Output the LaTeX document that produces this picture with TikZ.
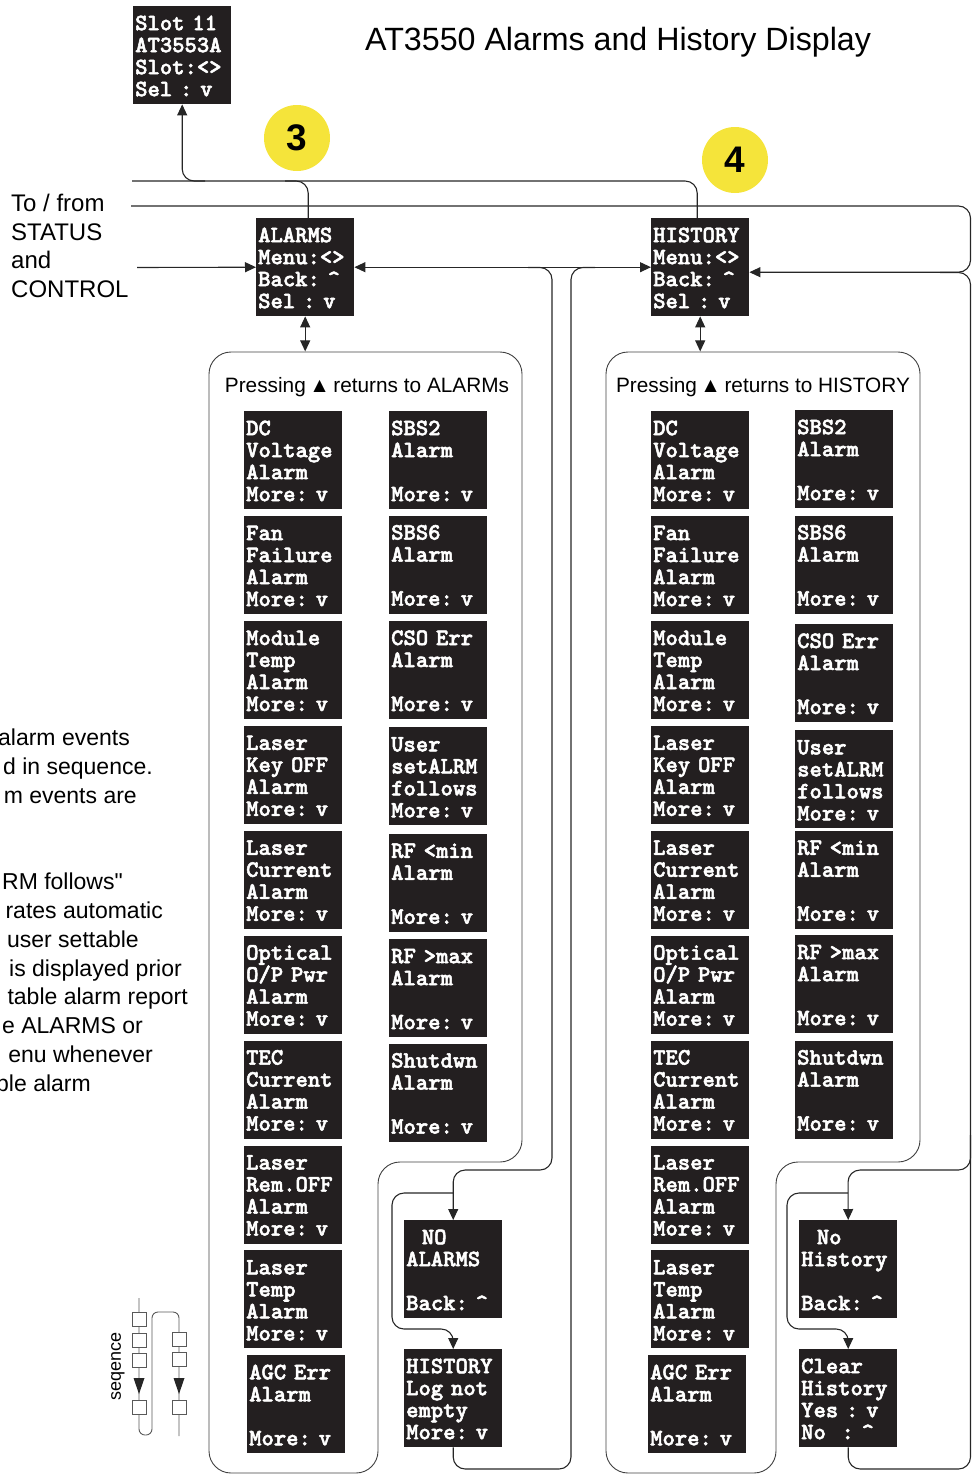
\documentclass[tikz,border=0pt]{standalone}
\usepackage{fontspec}
\setmainfont{Liberation Sans}
\newfontfamily\lcdfont{lmmonolt10-bold.otf}[FakeBold=2.2]
\usetikzlibrary{positioning, arrows.meta}
\definecolor{lcdbg}{RGB}{35,31,32}
\definecolor{badgey}{RGB}{245,228,58}
\newcommand{\upkey}{\textasciicircum}
\tikzset{
  conn/.style={draw=black!85, line width=1.1pt, rounded corners=12pt},
  arr/.style={conn, -{Triangle[length=11pt,width=10pt]}},
  darr/.style={conn, {Triangle[length=11pt,width=10pt]}-{Triangle[length=11pt,width=10pt]}},
  lcd/.style={fill=lcdbg, text=white, anchor=north west, align=left,
    text width=94pt, inner xsep=2pt, inner ysep=5pt,
    font=\lcdfont\fontsize{23.5}{22}\selectfont,
    execute at begin node=\rule{0pt}{19pt},
    execute at end node=\rule[-3pt]{0pt}{3pt}},
  panel/.style={draw=black!75, line width=0.9pt, rounded corners=22pt},
  badge/.style={circle, fill=badgey, minimum size=66pt, inner sep=0pt,
    font=\bfseries\fontsize{37}{40}\selectfont},
  plab/.style={font=\fontsize{20.8}{24}\selectfont, inner sep=0pt},
  note/.style={font=\fontsize{23}{28.8}\selectfont, inner sep=0pt, anchor=base east},
  seqbox/.style={draw=black!65, fill=white, line width=0.8pt},
  seqline/.style={draw=black!65, line width=0.9pt, rounded corners=6pt}
}

\begin{document}
\begin{tikzpicture}[x=1pt, y=-1pt]
  \useasboundingbox (0,0) rectangle (972,1475);

  % title and badges
  \node[font=\fontsize{32.2}{34}\selectfont, anchor=base west, inner sep=0pt] (title) at (365,50) {AT3550 Alarms and History Display};
  \node[badge] (b3) at (297,138) {3};
  \node[badge] (b4) at (735,160) {4};
  \node[font=\fontsize{24}{28.7}\selectfont, align=left, anchor=north west, inner sep=0pt] (io) at (11,194) {To / from\\STATUS\\and\\CONTROL};

  % menu heads
  \node[lcd] (slot) at (133,6) {Slot 11\\AT3553A\\Slot:<>\\Sel~:~v};
  \node[lcd] (alarms) at (256,218) {ALARMS\\Menu:<>\\Back:~\upkey\\Sel~:~v};
  \node[lcd] (history) at (651,218) {HISTORY\\Menu:<>\\Back:~\upkey\\Sel~:~v};

  % panels
  \draw[panel] (209,800) -- (209,352) -- (522,352) -- (522,1162) -- (378,1162) -- (378,1473) -- (209,1473) -- cycle;
  \draw[panel] (606,800) -- (606,352) -- (920,352) -- (920,1162) -- (776,1162) -- (776,1473) -- (606,1473) -- cycle;
  \node[plab] (alab) at (367,387) {Pressing\,▲\,returns to ALARMs};
  \node[plab] (hlab) at (763,387) {Pressing\,▲\,returns to HISTORY};

  % ALARMS list
  \node[lcd] (al1) at (244,411) {DC\\Voltage\\Alarm\\More:~v};
  \node[lcd, below=6.5pt of al1] (al2) {Fan\\Failure\\Alarm\\More:~v};
  \node[lcd, below=6.5pt of al2] (al3) {Module\\Temp\\Alarm\\More:~v};
  \node[lcd, below=6.5pt of al3] (al4) {Laser\\Key~OFF\\Alarm\\More:~v};
  \node[lcd, below=6.5pt of al4] (al5) {Laser\\Current\\Alarm\\More:~v};
  \node[lcd, below=6.5pt of al5] (al6) {Optical\\O/P~Pwr\\Alarm\\More:~v};
  \node[lcd, below=6.5pt of al6] (al7) {TEC\\Current\\Alarm\\More:~v};
  \node[lcd, below=6.5pt of al7] (al8) {Laser\\Rem.OFF\\Alarm\\More:~v};
  \node[lcd, below=6.5pt of al8] (al9) {Laser\\Temp\\Alarm\\More:~v};
  \node[lcd, below=6.5pt of al9, xshift=3pt] (al10) {AGC~Err\\Alarm\\~\\More:~v};
  \node[lcd] (ar1) at (389,411) {SBS2\\Alarm\\~\\More:~v};
  \node[lcd, below=6pt of ar1] (ar2) {SBS6\\Alarm\\~\\More:~v};
  \node[lcd, below=7pt of ar2] (ar3) {CSO~Err\\Alarm\\~\\More:~v};
  \node[lcd, below=8pt of ar3] (ar4) {User\\setALRM\\follows\\More:~v};
  \node[lcd, below=8pt of ar4] (ar5) {RF~<min\\Alarm\\~\\More:~v};
  \node[lcd, below=7pt of ar5] (ar6) {RF~>max\\Alarm\\~\\More:~v};
  \node[lcd, below=6pt of ar6] (ar7) {Shutdwn\\Alarm\\~\\More:~v};
  \node[lcd] (noalarm) at (404,1220) {~~NO\\ALARMS\\~\\Back:~\upkey};
  \node[lcd] (histlog) at (404,1349) {HISTORY\\Log~not\\empty\\More:~v};

  % HISTORY list
  \node[lcd] (hl1) at (651,411) {DC\\Voltage\\Alarm\\More:~v};
  \node[lcd, below=6.5pt of hl1] (hl2) {Fan\\Failure\\Alarm\\More:~v};
  \node[lcd, below=6.5pt of hl2] (hl3) {Module\\Temp\\Alarm\\More:~v};
  \node[lcd, below=6.5pt of hl3] (hl4) {Laser\\Key~OFF\\Alarm\\More:~v};
  \node[lcd, below=6.5pt of hl4] (hl5) {Laser\\Current\\Alarm\\More:~v};
  \node[lcd, below=6.5pt of hl5] (hl6) {Optical\\O/P~Pwr\\Alarm\\More:~v};
  \node[lcd, below=6.5pt of hl6] (hl7) {TEC\\Current\\Alarm\\More:~v};
  \node[lcd, below=6.5pt of hl7] (hl8) {Laser\\Rem.OFF\\Alarm\\More:~v};
  \node[lcd, below=6.5pt of hl8] (hl9) {Laser\\Temp\\Alarm\\More:~v};
  \node[lcd, below=6.5pt of hl9, xshift=-3pt] (hl10) {AGC~Err\\Alarm\\~\\More:~v};
  \node[lcd] (hr1) at (795,410) {SBS2\\Alarm\\~\\More:~v};
  \node[lcd, below=7pt of hr1] (hr2) {SBS6\\Alarm\\~\\More:~v};
  \node[lcd, below=10pt of hr2] (hr3) {CSO~Err\\Alarm\\~\\More:~v};
  \node[lcd, below=8pt of hr3] (hr4) {User\\setALRM\\follows\\More:~v};
  \node[lcd, below=2pt of hr4] (hr5) {RF~<min\\Alarm\\~\\More:~v};
  \node[lcd, below=6pt of hr5] (hr6) {RF~>max\\Alarm\\~\\More:~v};
  \node[lcd, below=7pt of hr6] (hr7) {Shutdwn\\Alarm\\~\\More:~v};
  \node[lcd] (nohist) at (799,1220) {~~No\\History\\~\\Back:~\upkey};
  \node[lcd] (clear) at (799,1349) {Clear\\History\\Yes~:~v\\No~~:~\upkey};

  % junctions
  \coordinate (busa) at (132,181);
  \coordinate (busb) at (131,206);
  \coordinate (stat) at (137,267.5);
  \coordinate (jslot) at (205,181);
  \coordinate (jalm) at (285,181);
  \coordinate (jna) at (528,267.5);
  \coordinate (jhl) at (595,267.5);
  \coordinate (jna2) at (453,1193);
  \coordinate (rtop) at (940,272.5);
  \coordinate (jnh) at (970.5,1135);
  \coordinate (jnh2) at (848,1193);

  % connectors
  \draw[conn] (busa) -| ([xshift=-3pt]history.north);
  \draw[arr] (jslot) -| (slot.south);
  \draw[conn] (jalm) -| ([xshift=3pt]alarms.north);
  \draw[arr] (busb) -- (970.5,206) |- ([yshift=-5pt]history.east);
  \draw[arr] (stat) -- (alarms.west);
  \draw[darr] (alarms.east) -- (history.west);
  \draw[darr] (alarms.south) -- ++(0,35);
  \draw[darr] (history.south) -- ++(0,35);
  \draw[arr] (jna) -| (552,1170) -| (noalarm.north);
  \draw[arr] (jna2) -| (392,1329) -| (histlog.north);
  \draw[conn] (histlog.south) |- (571,1469) -- (571,267.5) -- (jhl);
  \draw[conn] (clear.south) |- (970.5,1469) -- (970.5,272.5) -- (rtop);
  \draw[arr] (jnh) |- (848,1170) -- (nohist.north);
  \draw[arr] (jnh2) -| (787,1329) -| (clear.north);

  % side notes
  \node[note] (n1) at (130,745) {alarm events};
  \node[note] (n2) at (153,774) {d in sequence.};
  \node[note] (n3) at (137,803) {m events are};
  \node[note] (n4) at (123,889) {RM follows\textquotedbl};
  \node[note] (n5) at (163,918) {rates automatic};
  \node[note] (n6) at (139,947) {user settable};
  \node[note] (n7) at (182,976) {is displayed prior};
  \node[note] (n8) at (188,1004) {table alarm report};
  \node[note] (n9) at (143,1033) {e ALARMS or};
  \node[note] (n10) at (153,1062) {enu whenever};
  \node[note] (n11) at (91,1091) {ble alarm};

  % sequence legend
  \draw[seqline] (139,1298) -- (139,1435) -- (152,1435) -- (152,1312) -- (179,1312) -- (179,1436);
  \draw[seqbox] (132,1312) rectangle (146,1326);
  \draw[seqbox] (132,1333) rectangle (146,1347);
  \draw[seqbox] (132,1353) rectangle (146,1367);
  \draw[seqbox] (132,1400) rectangle (146,1414);
  \draw[seqbox] (172,1332) rectangle (186,1346);
  \draw[seqbox] (172,1352) rectangle (186,1366);
  \draw[seqbox] (172,1400) rectangle (186,1414);
  \fill[black!85] (133.5,1378) -- (144.5,1378) -- (139,1394) -- cycle;
  \fill[black!85] (173.5,1378) -- (184.5,1378) -- (179,1394) -- cycle;
  \node[rotate=90, font=\fontsize{18}{20}\selectfont, inner sep=0pt] (seqlab) at (118,1366) {seqence};
\end{tikzpicture}
\end{document}
